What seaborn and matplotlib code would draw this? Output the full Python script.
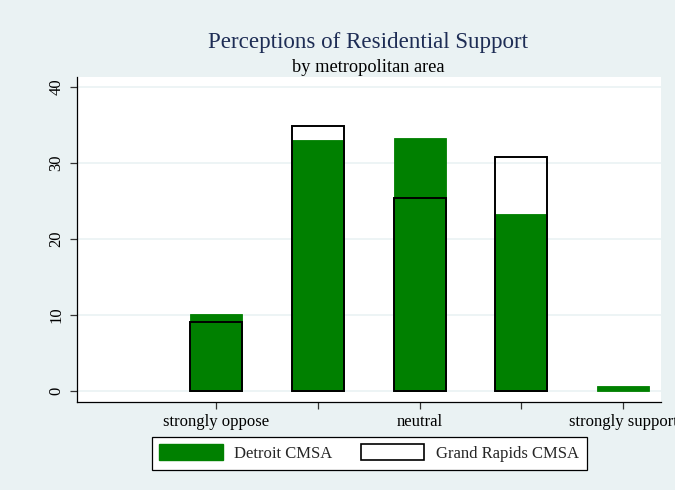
import matplotlib
matplotlib.use("Agg")
import matplotlib.pyplot as plt
import matplotlib.patches as mpatches
import numpy as np
import pandas as pd
import seaborn as sns

# Survey response scale (1 = strongly oppose ... 5 = strongly support)
positions = [1, 2, 3, 4, 5]
tick_labels = {1: "strongly oppose", 3: "neutral", 5: "strongly support"}

# Percent of respondents in each metro area
detroit = [10.1, 33.0, 33.3, 23.3, 0.6]
grand_rapids = [9.0, 34.8, 25.4, 30.7, np.nan]

series_names = ["Detroit CMSA", "Grand Rapids CMSA"]
y_ticks = [0, 10, 20, 30, 40]

BG = "#EAF2F3"
GREEN = "#008000"
NAVY = "#1E2D55"
SERIF = ["Liberation Serif", "DejaVu Serif"]

sns.set_theme(style="white")
plt.rcParams["font.family"] = SERIF

df_det = pd.DataFrame({"pos": positions, "pct": detroit})
df_gr = pd.DataFrame({"pos": positions, "pct": grand_rapids}).dropna()

fig = plt.figure(figsize=(6.75, 4.9), dpi=100, facecolor=BG)
ax = fig.add_axes([0.114, 0.180, 0.865, 0.663])
ax.set_facecolor("white")

sns.barplot(data=df_det, x="pos", y="pct", native_scale=True, width=0.51,
            color=GREEN, saturation=1, edgecolor=GREEN, linewidth=0.6,
            errorbar=None, ax=ax, zorder=2)
sns.barplot(data=df_gr, x="pos", y="pct", native_scale=True, width=0.51,
            fill=False, color="black", linewidth=1.4,
            errorbar=None, ax=ax, zorder=3)
for p in ax.patches[len(df_det):]:
    p.set_edgecolor("black")
    p.set_facecolor("none")

ax.set_xlim(-0.366, 5.37)
ax.set_ylim(-1.45, 41.3)

ax.set_yticks(y_ticks)
ax.set_yticklabels([str(t) for t in y_ticks], rotation=90, va="center",
                   fontsize=12)
ax.set_xticks(positions)
ax.set_xticklabels([tick_labels.get(p, "") for p in positions], fontsize=12)
ax.tick_params(axis="both", direction="out", length=5, width=0.9,
               color="#333333", colors="black", pad=4, bottom=True, left=True)

ax.yaxis.grid(True, color=BG, linewidth=1.2, zorder=0)
ax.set_axisbelow(True)
ax.set_xlabel("")
ax.set_ylabel("")

for side in ("top", "right"):
    ax.spines[side].set_visible(False)
for side in ("left", "bottom"):
    ax.spines[side].set_color("black")
    ax.spines[side].set_linewidth(0.9)

fig.text(0.545, 0.914, "Perceptions of Residential Support", ha="center",
         va="center", fontsize=16.6, color=NAVY)
fig.text(0.545, 0.862, "by metropolitan area", ha="center", va="center",
         fontsize=13.2, color="black")

handles = [
    mpatches.Patch(facecolor=GREEN, edgecolor=GREEN, label=series_names[0]),
    mpatches.Patch(facecolor="white", edgecolor="black", linewidth=1.2,
                   label=series_names[1]),
]
leg = fig.legend(handles=handles, loc="center", bbox_to_anchor=(0.547, 0.075),
                 ncol=2, fontsize=12, frameon=True, fancybox=False,
                 framealpha=1, facecolor="white",
                 handlelength=3.8, handleheight=1.1, columnspacing=1.7,
                 borderpad=0.45, handletextpad=0.7)
leg.get_frame().set_edgecolor("black")
leg.get_frame().set_linewidth(0.9)

fig.savefig("out.png", dpi=100, facecolor=BG)
